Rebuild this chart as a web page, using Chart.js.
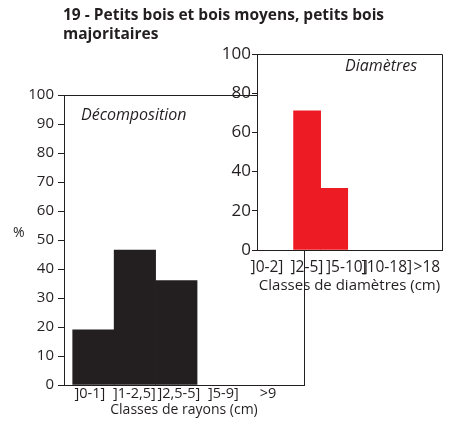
<!DOCTYPE html>
<html lang="fr">
<head>
<meta charset="utf-8">
<script src="https://cdn.jsdelivr.net/npm/chart.js@4/dist/chart.umd.min.js"></script>
<style>
  body { margin: 0; background: #fff; }
  #wrap {
    position: relative;
    width: 451px;
    height: 425px;
    font-family: "Open Sans", sans-serif;
    color: #231f20;
  }
  #wrap canvas { position: absolute; }
  #main { left: 0; top: 0; }
  #inset { left: 200px; top: 40px; }
  .txt { position: absolute; white-space: nowrap; line-height: 1; }
  #title { left: 63px; top: 5px; font-weight: 700; font-size: 15.5px; line-height: 19px; }
  #pct { left: 13px; top: 225px; font-size: 14px; }
  #decomp { left: 81px; top: 106px; font-size: 16px; font-style: italic; }
  #diam { left: 345px; top: 57px; font-size: 16px; font-style: italic; }
</style>
</head>
<body>
<div id="wrap">
  <canvas id="main" width="451" height="425"></canvas>
  <canvas id="inset" width="251" height="260"></canvas>
  <div class="txt" id="title">19 - Petits bois et bois moyens, petits bois<br>majoritaires</div>
  <div class="txt" id="pct">%</div>
  <div class="txt" id="decomp">Décomposition</div>
  <div class="txt" id="diam">Diamètres</div>
</div>
<script>
// classes de rayons (décomposition) et de diamètres, en %
const rayonClasses = ["]0-1]", "]1-2,5]", "]2,5-5]", "]5-9]", ">9"];
const rayonValues = [19, 46.5, 36, 0, 0];
const diamClasses = ["]0-2]", "]2-5]", "]5-10]", "]10-18]", ">18"];
const diamValues = [0, 71, 31.5, 0, 0];

const ink = "#231f20";

// white plot background + top/right frame lines
const framePlugin = {
  id: "frame",
  beforeDraw(chart, args, opts) {
    if (!opts.fill) return;
    const a = chart.chartArea;
    chart.ctx.save();
    chart.ctx.fillStyle = opts.fill;
    chart.ctx.fillRect(a.left, a.top, a.right - a.left, a.bottom - a.top);
    chart.ctx.restore();
  },
  afterDraw(chart) {
    const a = chart.chartArea;
    const ctx = chart.ctx;
    ctx.save();
    ctx.strokeStyle = ink;
    ctx.lineWidth = 1;
    ctx.beginPath();
    ctx.moveTo(a.left, a.top + 0.5);
    ctx.lineTo(a.right + 0.5, a.top + 0.5);
    ctx.lineTo(a.right + 0.5, a.bottom);
    ctx.stroke();
    ctx.restore();
  },
};

function makeHisto(canvasId, cfg) {
  const ctx = document.getElementById(canvasId).getContext("2d");
  return new Chart(ctx, {
    type: "bar",
    data: {
      datasets: [
        {
          data: cfg.values.map((v, i) => ({ x: i, y: v })),
          xAxisID: "xb",
          backgroundColor: cfg.color,
          borderWidth: 0,
          // no hairline for empty classes
          inflateAmount: (c) => (c.raw && c.raw.y ? 0.33 : 0),
          barThickness: "flex",
          categoryPercentage: 1,
          barPercentage: 1,
        },
      ],
    },
    plugins: [framePlugin],
    options: {
      responsive: false,
      animation: false,
      events: [],
      layout: { padding: cfg.padding },
      plugins: {
        legend: { display: false },
        tooltip: { enabled: false },
        frame: { fill: cfg.fill },
      },
      scales: {
        // bar placement
        xb: {
          axis: "x",
          type: "linear",
          display: false,
          offset: false,
          min: cfg.barRange[0],
          max: cfg.barRange[1],
        },
        // class labels under the axis
        x: {
          axis: "x",
          type: "linear",
          position: "bottom",
          offset: false,
          min: cfg.labelRange[0],
          max: cfg.labelRange[1],
          afterBuildTicks: (scale) => {
            scale.ticks = cfg.classes.map((c, i) => ({ value: i }));
          },
          afterFit: (scale) => {
            scale.height = cfg.xHeight;
          },
          grid: { display: false, drawTicks: false },
          border: { display: true, color: ink, width: 1 },
          ticks: {
            autoSkip: false,
            maxRotation: 0,
            minRotation: 0,
            padding: cfg.xPad,
            color: ink,
            font: { family: "Open Sans", size: cfg.xFont },
            callback: (v, i) => cfg.classes[i],
          },
          title: {
            display: true,
            text: cfg.xTitle,
            color: ink,
            font: { family: "Open Sans", size: cfg.titleFont },
            padding: { top: 0, bottom: cfg.titlePad },
          },
        },
        y: {
          min: 0,
          max: 100,
          afterFit: (scale) => {
            scale.width = 40;
          },
          grid: {
            drawOnChartArea: false,
            drawTicks: true,
            tickLength: cfg.tickLength,
            color: ink,
          },
          border: { display: true, color: ink, width: 1 },
          ticks: {
            stepSize: 10,
            padding: cfg.yPad,
            color: ink,
            font: { family: "Open Sans", size: cfg.yFont },
            callback: (v) => (v % cfg.labelEvery === 0 ? v : ""),
          },
        },
      },
    },
  });
}

makeHisto("main", {
  classes: rayonClasses,
  values: rayonValues,
  color: ink,
  fill: null,
  padding: { left: 24, top: 95, right: 147, bottom: 0 },
  barRange: [-0.71, 5.08],
  labelRange: [-0.58, 4.81],
  xHeight: 40,
  xPad: 0,
  titlePad: 7,
  xTitle: "Classes de rayons (cm)",
  xFont: 14.5,
  titleFont: 14,
  yFont: 15,
  tickLength: 6,
  yPad: 4,
  labelEvery: 10,
});

makeHisto("inset", {
  classes: diamClasses,
  values: diamValues,
  color: "#ed1c24",
  fill: "#ffffff",
  padding: { left: 17, top: 14, right: 9, bottom: 0 },
  barRange: [-0.85, 5.98],
  labelRange: [-0.25, 4.38],
  xHeight: 50,
  xPad: 8,
  titlePad: 5,
  xTitle: "Classes de diamètres (cm)",
  xFont: 15.5,
  titleFont: 15,
  yFont: 17,
  tickLength: 5,
  yPad: 1,
  labelEvery: 20,
});
</script>
</body>
</html>
